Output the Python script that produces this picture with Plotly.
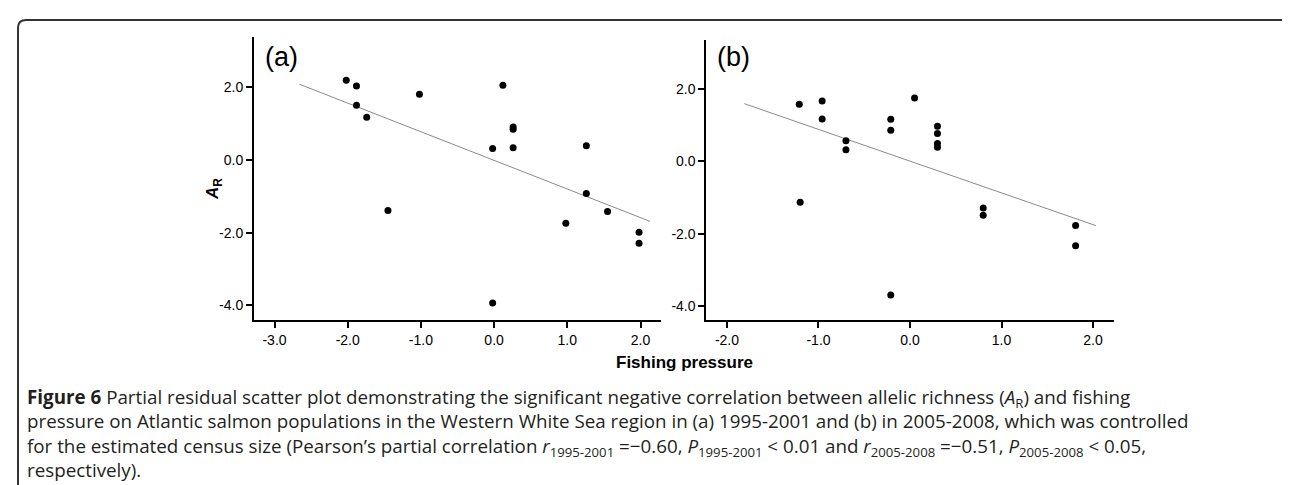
import numpy as np
import plotly.graph_objects as go

# ---------------- data ----------------
# Panel (a) 1995-2001: fishing pressure (partial residual) vs allelic richness residual
fishing_a = [-2.02, -1.88, -1.88, -1.74, -1.02, -1.45, 0.12, -0.02, 0.26, 0.26, 0.26,
             -0.02, 1.26, 1.26, 0.98, 1.55, 1.98, 1.98]
ar_a = [2.20, 2.04, 1.51, 1.18, 1.81, -1.39, 2.06, 0.32, 0.91, 0.85, 0.34,
        -3.94, 0.39, -0.92, -1.74, -1.42, -1.99, -2.29]

# Panel (b) 2005-2008
fishing_b = [-1.21, -1.20, -0.96, -0.96, -0.70, -0.70, -0.21, -0.21, -0.21, 0.05,
             0.30, 0.30, 0.30, 0.30, 0.80, 0.80, 1.81, 1.81]
ar_b = [1.58, -1.13, 1.67, 1.17, 0.57, 0.32, 1.16, 0.86, -3.69, 1.75,
        0.97, 0.77, 0.49, 0.39, -1.29, -1.49, -1.77, -2.33]

# extent of the fitted lines (x)
fit_extent_a = [-2.66, 2.13]
fit_extent_b = [-1.81, 2.03]

x_ticks_a = [-3, -2, -1, 0, 1, 2]
x_ticks_b = [-2, -1, 0, 1, 2]
y_ticks = [-4, -2, 0, 2]

panel_labels = ["(a)", "(b)"]
x_title = "Fishing pressure"
caption_lines = [
    "<b>Figure 6</b> Partial residual scatter plot demonstrating the significant negative correlation between allelic richness (<i>A</i><sub>R</sub>) and fishing",
    "pressure on Atlantic salmon populations in the Western White Sea region in (a) 1995-2001 and (b) in 2005-2008, which was controlled",
    "for the estimated census size (Pearson\u2019s partial correlation <i>r</i><sub>1995-2001</sub> =\u22120.60, <i>P</i><sub>1995-2001</sub> &lt; 0.01 and <i>r</i><sub>2005-2008</sub> =\u22120.51, <i>P</i><sub>2005-2008</sub> &lt; 0.05,",
    "respectively).",
]

# ---------------- layout helpers ----------------
W, H = 1290, 485


def px(x):
    return x / W


def py(y):
    return 1 - y / H


def fit_line(xs, ys, extent):
    slope, intercept = np.polyfit(xs, ys, 1)
    ex = np.array(extent)
    return ex, slope * ex + intercept


fig = go.Figure()

for xs, ys, ext, xa, ya in [(fishing_a, ar_a, fit_extent_a, "x", "y"),
                            (fishing_b, ar_b, fit_extent_b, "x2", "y2")]:
    lx, ly = fit_line(xs, ys, ext)
    fig.add_trace(go.Scatter(x=lx, y=ly, mode="lines", xaxis=xa, yaxis=ya,
                             line=dict(color="#8a8a8a", width=1), hoverinfo="skip",
                             showlegend=False))
    fig.add_trace(go.Scatter(x=xs, y=ys, mode="markers", xaxis=xa, yaxis=ya,
                             marker=dict(color="black", size=7), showlegend=False))

tick_font = dict(family="Liberation Sans, Arial, sans-serif", size=14, color="black")
axis_common = dict(showline=True, linecolor="black", linewidth=2, ticks="outside",
                   ticklen=6, tickwidth=1.5, tickcolor="black", showgrid=False,
                   zeroline=False, tickfont=tick_font, mirror=False)

fig.update_layout(
    width=W, height=H,
    margin=dict(l=0, r=0, t=0, b=0),
    paper_bgcolor="white", plot_bgcolor="white",
    xaxis=dict(domain=[px(246), px(653)], range=[-3.28, 2.28], anchor="y",
               tickvals=x_ticks_a, ticktext=[f"{v:.1f}" for v in x_ticks_a], **axis_common),
    yaxis=dict(domain=[py(311.7), py(29)], range=[-4.4, 3.39], anchor="x",
               tickvals=y_ticks, ticktext=[f"{v:.1f}" for v in y_ticks], **axis_common),
    xaxis2=dict(domain=[px(698.3), px(1105.5)], range=[-2.226, 2.224], anchor="y2",
                tickvals=x_ticks_b, ticktext=[f"{v:.1f}" for v in x_ticks_b], **axis_common),
    yaxis2=dict(domain=[py(311.7), py(31.7)], range=[-4.375, 3.36], anchor="x2",
                tickvals=y_ticks, ticktext=[f"{v:.1f}" for v in y_ticks], **axis_common),
)

annotations = []
for lab, cx in zip(panel_labels, [273.5, 725]):
    annotations.append(dict(text=lab, x=px(cx), y=py(49), xref="paper", yref="paper",
                            xanchor="center", yanchor="middle", showarrow=False,
                            font=dict(family="Liberation Sans, Arial, sans-serif", size=27,
                                      color="black")))
annotations.append(dict(text="<b><i>A</i></b><b><sub>R</sub></b>", x=px(206), y=py(181),
                        xref="paper", yref="paper", textangle=-90, showarrow=False,
                        xanchor="center", yanchor="middle",
                        font=dict(family="Liberation Sans, Arial, sans-serif", size=17,
                                  color="black")))
annotations.append(dict(text=f"<b>{x_title}</b>", x=px(676), y=py(354), xref="paper",
                        yref="paper", showarrow=False, xanchor="center", yanchor="middle",
                        font=dict(family="Liberation Sans, Arial, sans-serif", size=17,
                                  color="black")))
annotations.append(dict(text="<br>".join(caption_lines), x=px(17), y=py(425),
                        xref="paper", yref="paper", showarrow=False, xanchor="left",
                        yanchor="middle", align="left",
                        font=dict(family="Open Sans, sans-serif", size=18.8,
                                  color="#231f20")))
fig.update_layout(annotations=annotations)

# rounded frame around the figure
L, T, R, B, r = 10, 12, 1289, 500, 8
path = (f"M {px(L)},{py(B)} L {px(L)},{py(T + r)} Q {px(L)},{py(T)} {px(L + r)},{py(T)} "
        f"L {px(R - r)},{py(T)} Q {px(R)},{py(T)} {px(R)},{py(T + r)} L {px(R)},{py(B)}")
fig.add_shape(type="path", path=path, xref="paper", yref="paper",
              line=dict(color="#333333", width=2))

fig.write_html("out.html")
